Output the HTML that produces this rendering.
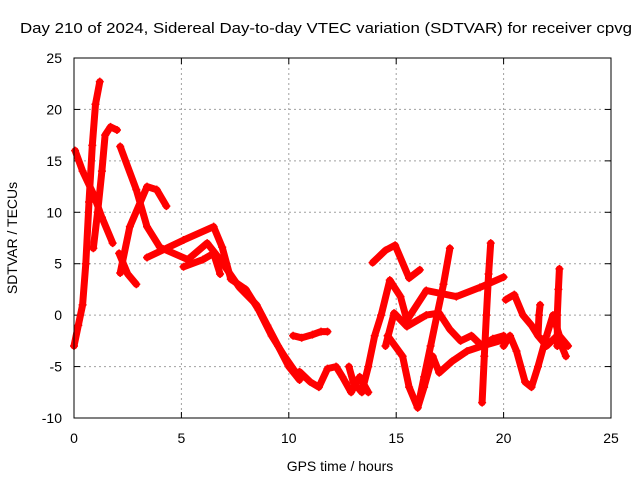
<!DOCTYPE html>
<html><head><meta charset="utf-8"><style>
body{margin:0;background:#fff;font-family:"Liberation Sans",sans-serif}
svg text{font-family:"Liberation Sans",sans-serif;font-size:14px;fill:#000}
</style></head><body>
<svg id="chart" width="640" height="480" viewBox="0 0 640 480" xmlns="http://www.w3.org/2000/svg">
<text x="20" y="33" textLength="612" lengthAdjust="spacingAndGlyphs" style="font-size:15px">Day 210 of 2024, Sidereal Day-to-day VTEC variation (SDTVAR) for receiver cpvg</text>
<g id="grid"></g>
<g id="ticks"></g>
<g id="series"></g>
<rect x="74" y="58" width="537" height="360" fill="none" stroke="#000" stroke-width="1"/>
<text x="340" y="471" text-anchor="middle">GPS time / hours</text>
<text transform="translate(17,238) rotate(-90)" text-anchor="middle">SDTVAR / TECUs</text>
</svg>
<script>
const xTicks=[0,5,10,15,20,25];
const yTicks=[-10,-5,0,5,10,15,20,25];
const trackA=[[0,-3],[0.2,-1],[0.4,1],[0.55,5],[0.7,11],[0.85,16.5],[1.0,20.5],[1.2,22.7]];
const trackB=[[0.05,16],[0.4,14],[0.9,11.8],[1.3,9.5],[1.8,7]];
const trackC=[[0.9,6.5],[1.1,10],[1.3,14],[1.45,17.5],[1.7,18.3],[2,18]];
const trackD=[[2.15,16.4],[2.9,12.2],[3.4,8.6],[4,6.6],[5.3,5.4],[6.2,7],[6.8,5.4],[7.7,2.7],[8.5,1],[9,-1],[9.5,-3],[10,-5],[10.5,-6.3]];
const trackE=[[2.15,4.1],[2.6,8.6],[3.4,12.5],[3.85,12.2],[4.3,10.6]];
const trackF=[[3.4,5.6],[5.1,7.3],[6.5,8.6],[6.9,6.6],[7.3,3.5],[8,2.5],[8.6,0.5],[9.2,-2],[9.8,-4],[10.3,-5.5]];
const trackG=[[2.1,6],[2.5,4],[2.9,3]];
const trackH=[[5.1,4.7],[6,5.4],[6.5,6],[6.8,4]];
const trackI=[[10.2,-2],[10.6,-2.2],[11.1,-1.9],[11.5,-1.6],[11.8,-1.6]];
const trackJ=[[10.5,-5.5],[11,-6.5],[11.4,-7],[11.8,-5.2],[12.2,-5],[12.5,-6],[12.9,-7.5],[13.3,-6],[13.7,-7.5]];
const trackK=[[12.8,-5],[13,-6.5],[13.4,-7.5],[13.7,-5],[14,-2],[14.3,0],[14.7,3.4],[15.2,1.8],[15.5,-0.5],[16.4,2.4],[17.8,1.8],[18.9,2.7],[20,3.7]];
const trackL=[[13.9,5.1],[14.5,6.3],[14.95,6.8],[15.6,3.6],[16.1,4.4]];
const trackM=[[16,-9],[16.3,-6],[16.6,-3],[16.9,0],[17.2,3],[17.5,6.5]];
const trackN=[[14.5,-3],[14.9,0.2],[15.5,-1.1],[16.4,0],[17,0.2],[17.5,-1.4],[18,-2.5],[18.5,-2],[19,-3],[19.5,-2.3],[20,-2]];
const trackO=[[14.6,-2],[15.3,-4],[15.6,-7],[16,-9],[16.3,-7],[16.7,-4],[17,-5.6],[17.6,-4.5],[18.3,-3.5],[19,-3],[20,-2.4]];
const trackP=[[19,-8.5],[19.1,-4],[19.2,0],[19.3,4],[19.4,7]];
const trackQ=[[20,-3],[20.3,-2],[20.6,-3.5],[21,-6.5],[21.3,-7],[21.6,-5],[22,-2],[22.3,0],[22.6,-2],[23,-3]];
const trackR=[[20.1,1.5],[20.5,2],[20.9,0],[21.3,-1],[21.6,-2],[22,-3],[22.5,-2],[22.9,-4]];
const trackS=[[22.5,-3],[22.5,0],[22.55,2.5],[22.6,4.5]];
const trackT=[[21.6,-2],[21.65,0],[21.7,1]];
const tracks=[trackA,trackB,trackC,trackD,trackE,trackF,trackG,trackH,trackI,trackJ,trackK,trackL,trackM,trackN,trackO,trackP,trackQ,trackR,trackS,trackT];
const NS="http://www.w3.org/2000/svg";
const X=t=>74+t*(537/25);
const Y=v=>58+(25-v)*(360/35);
function mk(tag,a,parent){const e=document.createElementNS(NS,tag);for(const k in a)e.setAttribute(k,a[k]);parent.appendChild(e);return e;}
const grid=document.getElementById('grid'),ticks=document.getElementById('ticks'),series=document.getElementById('series');
xTicks.forEach(t=>{
 if(t>0&&t<25){const g=mk('line',{x1:X(t),x2:X(t),y1:58,y2:418,stroke:'#a0a0a0','stroke-dasharray':'2,3'},grid);
 
 }
 const tk=mk('line',{x1:X(t),x2:X(t),y1:418,y2:412,stroke:'#000'},ticks);
 
 
 const tk2=mk('line',{x1:X(t),x2:X(t),y1:58,y2:64,stroke:'#000'},ticks);
 
 
 const l=mk('text',{x:X(t),y:443,'text-anchor':'middle'},ticks);l.textContent=t;
 
 
});
yTicks.forEach(v=>{
 if(v>-10&&v<25){const g=mk('line',{x1:74,x2:611,y1:Y(v),y2:Y(v),stroke:'#a0a0a0','stroke-dasharray':'2,3'},grid);
 
 }
 const tk=mk('line',{x1:74,x2:80,y1:Y(v),y2:Y(v),stroke:'#000'},ticks);
 
 
 const tk2=mk('line',{x1:605,x2:611,y1:Y(v),y2:Y(v),stroke:'#000'},ticks);
 
 
 const l=mk('text',{x:62,y:Y(v)+5,'text-anchor':'end'},ticks);l.textContent=v;
 
 
});
tracks.forEach(tr=>{
 const d=tr.map((p,i)=>(i?'L':'M')+X(p[0]).toFixed(1)+','+Y(p[1]).toFixed(1)).join(' ');
 const p=mk('path',{d:d,fill:'none',stroke:'#ff0000','stroke-width':7,'stroke-linejoin':'round','stroke-linecap':'round'},series);
 
 
 tr.forEach(pt=>{
  const m=mk('path',{d:`M${X(pt[0])-4},${Y(pt[1])}h8M${X(pt[0])},${Y(pt[1])-4}v8`,stroke:'#ff0000','stroke-width':1.5},series);
  
  
 });
});
</script>
</body></html>
